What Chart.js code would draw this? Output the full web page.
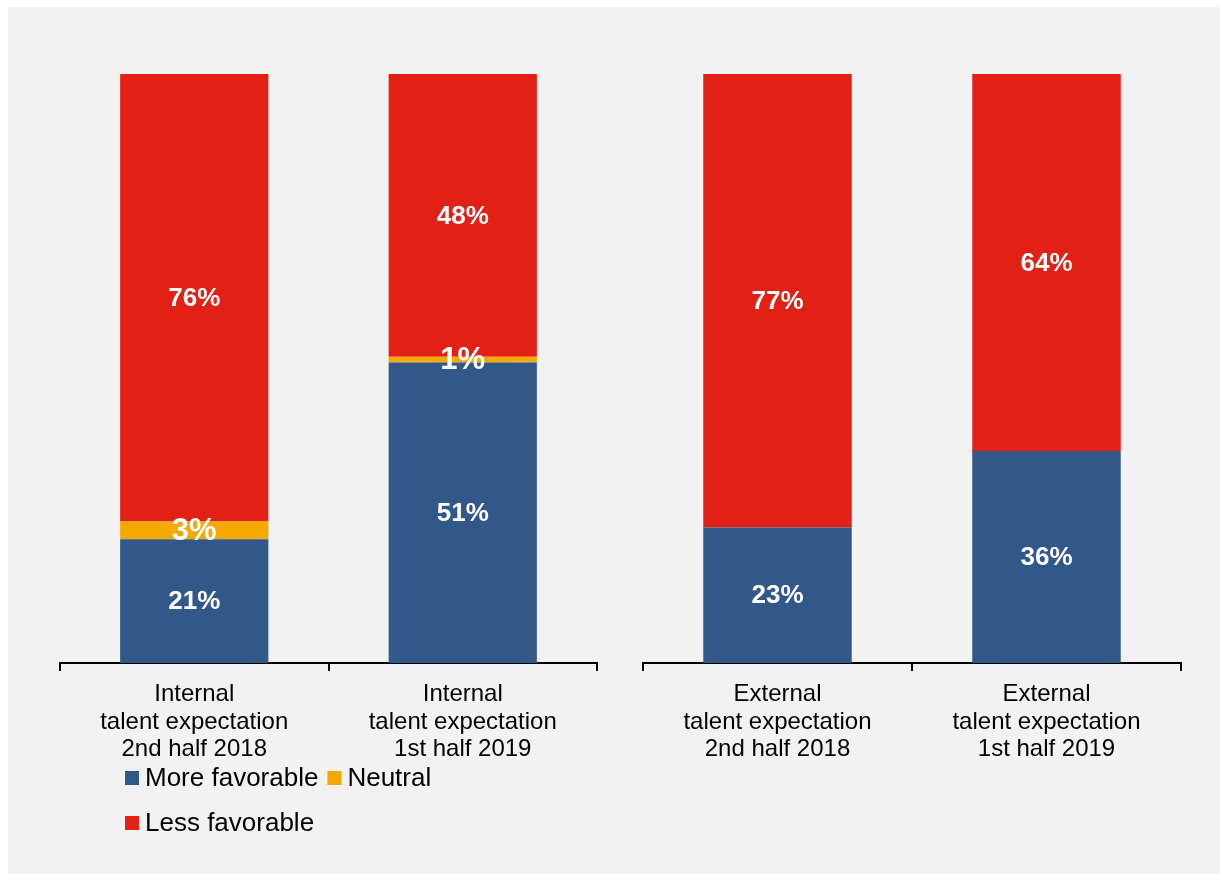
<!DOCTYPE html>
<html>
<head>
<meta charset="utf-8">
<script src="https://cdn.jsdelivr.net/npm/chart.js@4.4.1/dist/chart.umd.min.js"></script>
<style>
  html, body { margin: 0; padding: 0; background: #ffffff; }
  body { width: 1220px; height: 874px; position: relative; overflow: hidden; }
  #panel { position: absolute; left: 8px; top: 7px; width: 1212px; height: 867px; background: #f2f2f2; }
  #leftWrap { position: absolute; left: 8px; top: 7px; width: 610px; height: 867px; }
  #rightWrap { position: absolute; left: 620px; top: 7px; width: 600px; height: 867px; }
</style>
</head>
<body>
<div id="panel"></div>
<div id="leftWrap"><canvas id="leftChart"></canvas></div>
<div id="rightWrap"><canvas id="rightChart"></canvas></div>
<script>
// Survey categories (two groups: internal and external talent)
const categories = [
  ['Internal', 'talent expectation', '2nd half 2018'],
  ['Internal', 'talent expectation', '1st half 2019'],
  ['External', 'talent expectation', '2nd half 2018'],
  ['External', 'talent expectation', '1st half 2019']
];
// Share of responses, in percent
const moreFavorable = [21, 51, 23, 36];
const neutral = [3, 1, 0, 0];
const lessFavorable = [76, 48, 77, 64];

const seriesNames = ['More favorable', 'Neutral', 'Less favorable'];
const seriesColors = ['#325889', '#f5a800', '#e22015'];

const FONT = "'Liberation Sans', Arial, sans-serif";

function buildDatasets(from, to) {
  const values = [moreFavorable, neutral, lessFavorable];
  return values.map((v, i) => ({
    label: seriesNames[i],
    data: v.slice(from, to),
    backgroundColor: seriesColors[i],
    borderWidth: 0,
    categoryPercentage: 1.0,
    barPercentage: 0.552
  }));
}

// Value labels in the middle of each segment
const segmentLabels = {
  id: 'segmentLabels',
  afterDatasetsDraw(chart) {
    const ctx = chart.ctx;
    ctx.save();
    ctx.fillStyle = '#ffffff';
    ctx.textAlign = 'center';
    ctx.textBaseline = 'middle';
    chart.data.datasets.forEach((ds, di) => {
      const meta = chart.getDatasetMeta(di);
      meta.data.forEach((bar, i) => {
        const v = ds.data[i];
        if (!v) return;
        const p = bar.getProps(['x', 'y', 'base'], true);
        const size = di === 1 ? 31 : 26;
        ctx.font = 'bold ' + size + 'px ' + FONT;
        ctx.fillText(v + '%', p.x, (p.y + p.base) / 2 + 1);
      });
    });
    ctx.restore();
  }
};

// Legend laid out in two rows below the left group
const wrappedLegend = {
  id: 'wrappedLegend',
  afterDraw(chart) {
    const ctx = chart.ctx;
    ctx.save();
    ctx.font = '26px ' + FONT;
    ctx.textBaseline = 'middle';
    ctx.textAlign = 'left';
    const box = 14;
    const x0 = 117;
    const rows = [771, 816];
    let x = x0;
    chart.data.datasets.forEach((ds, i) => {
      const y = i < 2 ? rows[0] : rows[1];
      if (i === 2) x = x0;
      ctx.fillStyle = ds.backgroundColor;
      ctx.fillRect(x, y - box / 2, box, box);
      ctx.fillStyle = '#000000';
      ctx.fillText(ds.label, x + box + 6, y + 1);
      x += box + 6 + ctx.measureText(ds.label).width + 9;
    });
    ctx.restore();
  }
};

function makeOptions(pad) {
  return {
    responsive: true,
    maintainAspectRatio: false,
    animation: false,
    layout: { padding: pad },
    plugins: {
      legend: { display: false },
      tooltip: { enabled: false }
    },
    scales: {
      x: {
        stacked: true,
        offset: true,
        border: { display: true, color: '#000000', width: 2 },
        grid: {
          offset: true,
          drawOnChartArea: false,
          drawTicks: true,
          tickLength: 8,
          color: '#000000',
          lineWidth: 2
        },
        ticks: {
          color: '#000000',
          padding: 10,
          maxRotation: 0,
          autoSkip: false,
          font: { family: FONT, size: 24, lineHeight: 1.14 }
        }
      },
      y: {
        stacked: true,
        display: false,
        min: 0,
        max: 100
      }
    }
  };
}

new Chart(document.getElementById('leftChart'), {
  type: 'bar',
  data: { labels: categories.slice(0, 2), datasets: buildDatasets(0, 2) },
  options: makeOptions({ left: 52, right: 21, top: 67, bottom: 101 }),
  plugins: [segmentLabels, wrappedLegend]
});

new Chart(document.getElementById('rightChart'), {
  type: 'bar',
  data: { labels: categories.slice(2, 4), datasets: buildDatasets(2, 4) },
  options: makeOptions({ left: 23, right: 39, top: 67, bottom: 101 }),
  plugins: [segmentLabels]
});
</script>
</body>
</html>
